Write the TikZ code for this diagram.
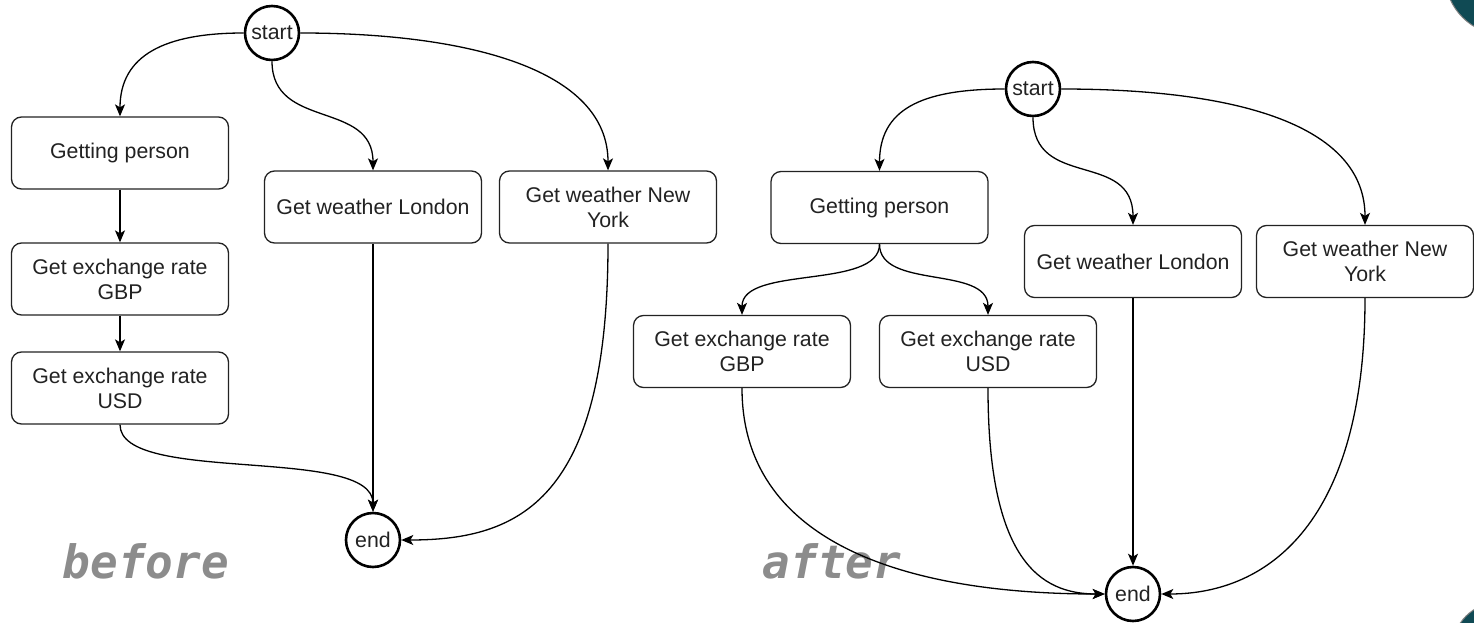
\documentclass[tikz,border=0pt]{standalone}
\usepackage{fontspec}
\setmainfont{Liberation Sans}
\newfontfamily\tagfont{DejaVu Sans Mono}
\usetikzlibrary{arrows.meta}
\definecolor{inkgray}{RGB}{34,34,34}
\definecolor{taggray}{RGB}{140,140,140}
\definecolor{cornerteal}{RGB}{16,74,84}
\tikzset{
  task/.style={draw=inkgray, line width=1.3pt, rounded corners=10pt, fill=white,
    minimum width=217pt, minimum height=72pt, align=center, text=inkgray,
    font=\fontsize{21.3}{25}\selectfont, inner sep=0pt},
  terminal/.style={draw=black, line width=2.6pt, circle, fill=white,
    minimum size=54pt, inner sep=0pt, text=inkgray,
    font=\fontsize{21.3}{25}\selectfont},
  edge/.style={draw=black, line width=1.3pt,
    -{Stealth[length=12pt,width=10pt,inset=3pt]}},
  tag/.style={text=taggray, font=\tagfont\bfseries\itshape\fontsize{46}{50}\selectfont,
    anchor=base, inner sep=0pt},
}
\begin{document}
\begin{tikzpicture}[x=1pt, y=-1pt]
\useasboundingbox (0,0) rectangle (1474,623);
\fill[white] (0,0) rectangle (1474,623);

% dark rounded edges at the page corners
\begin{scope}
  \clip (0,0) rectangle (1474,623);
  \filldraw[fill=cornerteal, draw=gray, line width=1pt] (1505,-25) circle (60);
  \filldraw[fill=cornerteal, draw=gray, line width=1pt] (1500,650) circle (48);
  \filldraw[fill=cornerteal, draw=gray, line width=0.6pt] (-9,-9) circle (11);
\end{scope}

% captions
\node[tag] (lcaption) at (146,578) {before};
\node[tag] (rcaption) at (832,578) {after};

% ---------- sequential version ----------
\node[terminal] (lstart) at (272,33) {start};
\node[task] (lperson) at (120,153) {Getting person};
\node[task] (lgbp) at (120,279) {Get exchange rate\\GBP};
\node[task] (lusd) at (120,388) {Get exchange rate\\USD};
\node[task] (llondon) at (373,207) {Get weather London};
\node[task] (lny) at (608,207) {Get weather New\\York};
\node[terminal] (lend) at (373,540) {end};

\draw[edge] (lstart.west) .. controls (165,33) and (120,55) .. (lperson.north);
\draw[edge] (lstart.south) .. controls (272,130) and (373,100) .. (llondon.north);
\draw[edge] (lstart.east) .. controls (470,33) and (608,70) .. (lny.north);
\draw[edge] (lperson.south) -- (lgbp.north);
\draw[edge] (lgbp.south) -- (lusd.north);
\draw[edge] (lusd.south) .. controls (120,485) and (373,445) .. (lend.north);
\draw[edge] (llondon.south) -- (lend.north);
\draw[edge] (lny.south) .. controls (608,500) and (520,540) .. (lend.east);

% ---------- parallel version ----------
\node[terminal] (rstart) at (1033,89) {start};
\node[task] (rperson) at (879.5,207.5) {Getting person};
\node[task] (rgbp) at (742,351.5) {Get exchange rate\\GBP};
\node[task] (rusd) at (988,351.5) {Get exchange rate\\USD};
\node[task] (rlondon) at (1133,261.5) {Get weather London};
\node[task] (rny) at (1365,261.5) {Get weather New\\York};
\node[terminal] (rend) at (1133,594) {end};

\draw[edge] (rstart.west) .. controls (920,89) and (879.5,110) .. (rperson.north);
\draw[edge] (rstart.south) .. controls (1033,190) and (1133,150) .. (rlondon.north);
\draw[edge] (rstart.east) .. controls (1250,89) and (1365,130) .. (rny.north);
\draw[edge] (rperson.south) .. controls (879.5,290) and (742,265) .. (rgbp.north);
\draw[edge] (rperson.south) .. controls (879.5,290) and (988,265) .. (rusd.north);
\draw[edge] (rgbp.south) .. controls (742,540) and (900,594) .. (rend.west);
\draw[edge] (rusd.south) .. controls (988,560) and (1040,594) .. (rend.west);
\draw[edge] (rlondon.south) -- (rend.north);
\draw[edge] (rny.south) .. controls (1365,520) and (1270,594) .. (rend.east);
\end{tikzpicture}
\end{document}
